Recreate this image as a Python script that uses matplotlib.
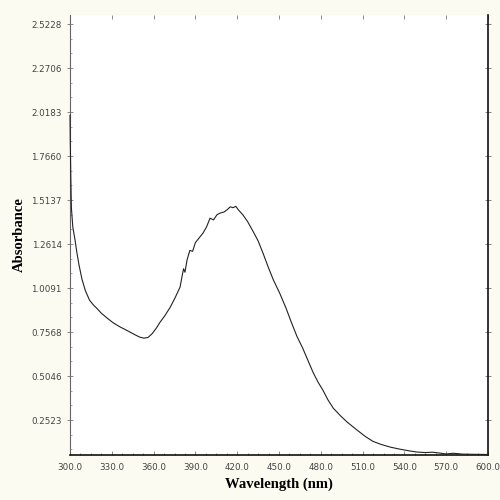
import matplotlib
matplotlib.use("Agg")
import matplotlib.pyplot as plt
from matplotlib.ticker import MultipleLocator, FixedLocator

# wavelength (nm) and absorbance
wavelength = [300.0, 300.2, 300.6, 301.0, 302.0, 303.5, 305.0, 306.5, 308.6, 311.0,
              314.0, 316.5, 319.0, 322.5, 326.5, 331.0, 336.0, 339.5, 343.0, 346.5,
              350.0, 353.0, 356.0, 359.0, 362.0, 364.5, 368.0, 372.0, 375.5, 379.0,
              380.5, 381.5, 382.5, 384.0, 386.0, 388.0, 390.0, 393.0, 395.5, 398.0,
              400.5, 403.0, 405.5, 408.0, 410.5, 413.0, 415.0, 417.0, 419.0, 421.0,
              424.0, 427.5, 431.0, 435.0, 438.5, 442.0, 446.0, 450.5, 455.0, 459.0,
              463.0, 467.0, 471.0, 474.5, 478.0, 481.5, 485.0, 489.0, 494.0, 499.0,
              506.0, 512.0, 517.5, 523.5, 530.0, 537.0, 544.0, 549.0, 555.0, 560.0,
              565.5, 570.0, 575.0, 582.0, 590.0, 600.0]
absorbance = [2.00, 1.85, 1.64, 1.47, 1.36, 1.29, 1.21, 1.14, 1.06, 0.995,
              0.94, 0.915, 0.895, 0.865, 0.838, 0.81, 0.786, 0.772, 0.757, 0.742,
              0.728, 0.722, 0.726, 0.748, 0.78, 0.812, 0.85, 0.90, 0.955, 1.015,
              1.08, 1.12, 1.10, 1.17, 1.225, 1.22, 1.27, 1.30, 1.325, 1.36,
              1.41, 1.40, 1.43, 1.44, 1.445, 1.46, 1.475, 1.47, 1.478, 1.456,
              1.43, 1.39, 1.34, 1.28, 1.21, 1.135, 1.055, 0.98, 0.895, 0.81,
              0.73, 0.665, 0.59, 0.525, 0.47, 0.424, 0.37, 0.32, 0.278, 0.24,
              0.195, 0.158, 0.13, 0.112, 0.097, 0.085, 0.075, 0.069, 0.066, 0.068,
              0.063, 0.058, 0.062, 0.057, 0.056, 0.055]

y_ticks = [0.2523, 0.5046, 0.7568, 1.0091, 1.2614, 1.5137, 1.7660, 2.0183, 2.2706, 2.5228]
x_ticks = [300.0, 330.0, 360.0, 390.0, 420.0, 450.0, 480.0, 510.0, 540.0, 570.0, 600.0]

fig = plt.figure(figsize=(5, 5), dpi=100, facecolor="#fbfbf2")
ax = fig.add_axes([0.14, 0.09, 0.836, 0.88])
ax.set_facecolor("white")

ax.plot(wavelength, absorbance, color="#222222", linewidth=0.8, zorder=4, clip_on=False)

ax.set_xlim(300, 600)
ax.set_ylim(0.052, 2.575)

ax.xaxis.set_major_locator(FixedLocator(x_ticks))
ax.xaxis.set_minor_locator(MultipleLocator(7.5))
ax.yaxis.set_major_locator(FixedLocator(y_ticks))
ax.yaxis.set_minor_locator(MultipleLocator(0.2523 / 3))

ax.set_xticklabels([f"{v:.1f}" for v in x_ticks])
ax.set_yticklabels([f"{v:.4f}" for v in y_ticks])

ax.tick_params(axis="both", which="major", labelsize=6.3, labelcolor="#444444",
               color="#777777", width=0.6)
ax.tick_params(axis="x", which="major", direction="in", length=3, top=True, pad=6)
ax.tick_params(axis="x", which="minor", direction="in", length=1.5, color="#777777")
ax.tick_params(axis="y", which="major", direction="inout", length=5, right=True)
ax.tick_params(axis="y", which="minor", direction="in", length=1.5, color="#999999")

ax.spines["top"].set_visible(False)
ax.spines["left"].set_color("#666666")
ax.spines["left"].set_linewidth(0.8)
ax.spines["bottom"].set_color("#111111")
ax.spines["bottom"].set_linewidth(1.2)
ax.spines["right"].set_color("#111111")
ax.spines["right"].set_linewidth(1.2)

ax.set_xlabel("Wavelength (nm)", family="Liberation Serif", fontweight="bold",
              fontsize=10.5, labelpad=4)
ax.set_ylabel("Absorbance", family="Liberation Serif", fontweight="bold",
              fontsize=10.5, labelpad=4)

fig.savefig("out.png", dpi=100, facecolor=fig.get_facecolor())
